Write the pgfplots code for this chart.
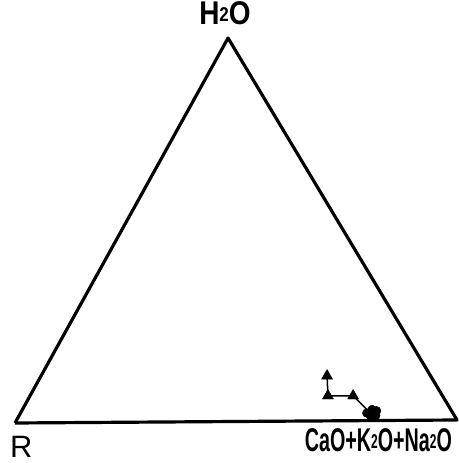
\documentclass[border=0pt]{standalone}
\usepackage{fontspec}
\setmainfont{Liberation Sans}
\usepackage{graphicx}
\usepackage{pgfplots}
\pgfplotsset{compat=1.18}

\newcommand{\sub}[1]{\raisebox{0.12em}{\fontsize{20}{20}\selectfont #1}}

\begin{document}
\begin{tikzpicture}
\begin{axis}[
  scale only axis,
  width=459bp, height=463bp,
  xmin=-3.39, xmax=100.45,
  ymin=-9.5, ymax=95.25,
  hide axis,
  clip=false,
]
% outline of the ternary diagram: R (left), CaO+K2O+Na2O (right), H2O (top)
\addplot[black, line width=3.2pt, line join=round] coordinates {
  (0,-0.45) (100,0.23) (48.2,86.65) (0,-0.45)
};

% sample trend
\addplot[black, line width=1.5pt] coordinates {
  (70.6,10.2) (70.8,5.7) (76.5,5.7) (80.2,2.0)
};
\addplot[only marks, mark=triangle*, mark size=6.4pt, black] coordinates {
  (70.6,10.2) (70.8,5.7) (76.5,5.7)
};
\addplot[only marks, mark=*, mark size=4.4pt, black] coordinates {
  (79.6,1.8) (80.8,2.6) (81.8,2.3) (80.4,1.2) (81.6,1.2)
};

% vertex labels
\node[inner sep=0pt, anchor=base, font=\fontsize{33}{33}\selectfont\bfseries]
  at (axis cs:47.5,89.6)
  {\scalebox{0.85}[1]{H\sub{2}O}};
\node[inner sep=0pt, anchor=base, font=\fontsize{31}{31}\selectfont]
  at (axis cs:1.4,-8.3) {R};
\node[inner sep=0pt, anchor=base, font=\fontsize{33}{33}\selectfont\bfseries]
  at (axis cs:82.2,-7.0)
  {\scalebox{0.6}[1]{CaO+K\sub{2}O+Na\sub{2}O}};
\end{axis}
\pgfresetboundingbox
\useasboundingbox (current axis.south west) rectangle (current axis.north east);
\end{tikzpicture}
\end{document}
